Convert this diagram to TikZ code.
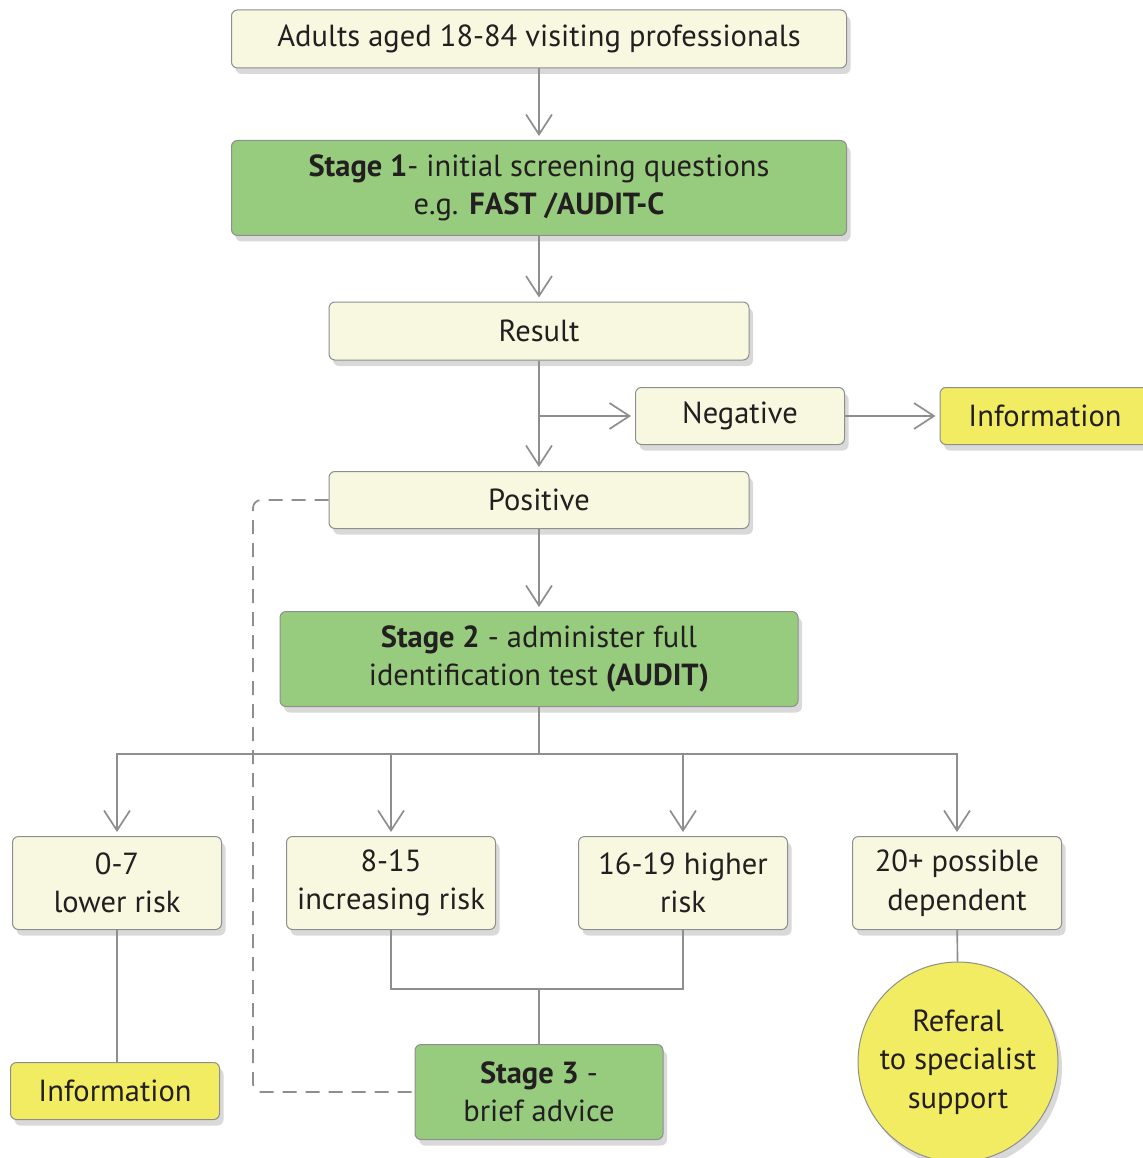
\documentclass[tikz,border=0pt]{standalone}
\usepackage{fontspec}
\setmainfont{PT Sans}
\usetikzlibrary{arrows.meta,shadows}

\definecolor{cream}{HTML}{F8F8E1}
\definecolor{leaf}{HTML}{97CC7E}
\definecolor{lemon}{HTML}{F2EC62}
\definecolor{wire}{HTML}{8E8E8E}
\definecolor{ink}{HTML}{231F20}

\tikzset{
  box/.style={draw=wire, line width=1pt, rounded corners=6pt, align=center,
    text=ink, font=\fontsize{30.5}{38.5}\selectfont, inner sep=0pt,
    drop shadow={shadow xshift=4pt, shadow yshift=-6pt, opacity=0.15, fill=black}},
  pale/.style={box, fill=cream},
  stagebox/.style={box, fill=leaf},
  infobox/.style={box, fill=lemon},
  line/.style={draw=wire, line width=1.7pt},
  arr/.style={line, -{Straight Barb[length=20pt, width=26pt, line width=1.7pt]}, shorten >=4pt},
  dashline/.style={line, dash pattern=on 14pt off 9pt, rounded corners=8pt}
}

\begin{document}
\begin{tikzpicture}[x=1pt, y=-1pt]
  \useasboundingbox (0,0) rectangle (1142,1158);

  % Boxes
  \node[pale, minimum width=615, minimum height=58] (adults) at (539,39)
    {Adults aged 18-84 visiting professionals};
  \node[stagebox, minimum width=615, minimum height=95] (stage1) at (539,188)
    {\textbf{Stage 1}- initial screening questions\\ e.g. \textbf{FAST /AUDIT-C}};
  \node[pale, minimum width=420, minimum height=58] (result) at (539,331) {Result};
  \node[pale, minimum width=209, minimum height=57] (negative) at (740,416) {Negative};
  \node[infobox, minimum width=210, minimum height=57] (info1) at (1045,416) {Information};
  \node[pale, minimum width=420, minimum height=57] (positive) at (539,500) {Positive};
  \node[stagebox, minimum width=518, minimum height=95] (stage2) at (539,659)
    {\textbf{Stage 2} - administer full\\ identification test \textbf{(AUDIT)}};

  % Scores
  \node[pale, minimum width=209, minimum height=93] (low) at (117,883) {0-7\\ lower risk};
  \node[pale, minimum width=209, minimum height=93] (incr) at (391,883) {8-15\\ increasing risk};
  \node[pale, minimum width=209, minimum height=93] (high) at (683,883) {16-19 higher\\ risk};
  \node[pale, minimum width=209, minimum height=93] (dep) at (957,883) {20+ possible\\ dependent};

  % Outcomes
  \node[infobox, minimum width=209, minimum height=57] (info2) at (115,1091) {Information};
  \node[stagebox, minimum width=248, minimum height=95] (stage3) at (539,1092)
    {\textbf{Stage 3} -\\ brief advice};
  \node[infobox, circle, rounded corners=0pt, minimum size=200] (referal) at (958,1062)
    {Referal\\ to specialist\\ support};

  % Connectors
  \coordinate (fork) at (539,416);
  \coordinate (bus) at (539,754);
  \coordinate (join) at (539,989);
  \coordinate (loop) at (253,1092);

  \draw[arr] (adults) -- (stage1);
  \draw[arr] (stage1) -- (result);
  \draw[arr] (result) -- (positive);
  \draw[arr] (fork) -- (negative);
  \draw[arr] (negative) -- (info1);
  \draw[arr] (positive) -- (stage2);
  \foreach \n in {low,incr,high,dep}
    \draw[arr] (stage2.south) -- (bus) -| (\n.north);

  \draw[line] (low.south) -- (low.south |- info2.north);
  \draw[line] (incr.south) |- (join) -| (high.south);
  \draw[line] (join) -- (stage3);
  \draw[line] (dep) -- (referal);

  % Dashed return
  \draw[dashline] (positive.west) -| (loop) -- (stage3.west);
\end{tikzpicture}
\end{document}
